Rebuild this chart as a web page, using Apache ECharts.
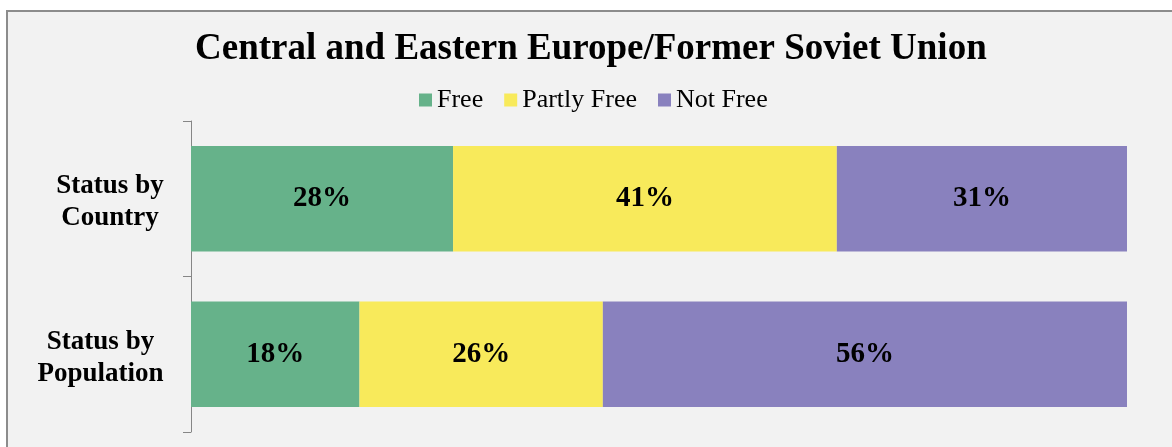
<!DOCTYPE html>
<html>
<head>
<meta charset="utf-8">
<script src="https://cdn.jsdelivr.net/npm/echarts@6/dist/echarts.min.js"></script>
<style>
  html, body { margin: 0; padding: 0; background: #ffffff; }
  #chart { width: 1172px; height: 447px; }
</style>
</head>
<body>
<div id="chart"></div>
<script>
// categories top to bottom
var categories = ['Status by\nCountry', 'Status by\nPopulation'];
var seriesNames = ['Free', 'Partly Free', 'Not Free'];
// percentage shares
var free = [28, 18];
var partlyFree = [41, 26];
var notFree = [31, 56];

var colors = ['#66b28a', '#f8ea5b', '#8981be'];
var serif = '"Liberation Serif", "Times New Roman", serif';
var catFont = 27;

// category labels: lines centred inside a right-aligned block
var ctx = document.createElement('canvas').getContext('2d');
ctx.font = 'bold ' + catFont + 'px ' + serif;
var rich = {};
categories.forEach(function (c, i) {
  var w = 0;
  c.split('\n').forEach(function (line) {
    w = Math.max(w, ctx.measureText(line).width);
  });
  rich['l' + i] = {
    width: Math.ceil(w),
    align: 'center',
    fontFamily: serif,
    fontWeight: 'bold',
    fontSize: catFont,
    lineHeight: 32,
    color: '#000'
  };
});

function barSeries(name, data, color) {
  return {
    name: name,
    type: 'bar',
    stack: 'total',
    barWidth: '68%',
    data: data,
    itemStyle: { color: color },
    label: {
      show: true,
      position: 'inside',
      formatter: '{c}%',
      color: '#000',
      fontFamily: serif,
      fontWeight: 'bold',
      fontSize: 29
    },
    emphasis: { disabled: true }
  };
}

var option = {
  animation: false,
  backgroundColor: '#ffffff',
  graphic: [{
    type: 'rect',
    z: -10,
    shape: { x: 7, y: 11, width: 1200, height: 480 },
    style: { fill: '#f2f2f2', stroke: '#8c8c8c', lineWidth: 2 },
    silent: true
  }],
  title: {
    text: 'Central and Eastern Europe/Former Soviet Union',
    left: 195,
    top: 31,
    padding: 0,
    textStyle: {
      fontFamily: serif,
      fontWeight: 'bold',
      fontSize: 37,
      color: '#000'
    }
  },
  legend: {
    data: seriesNames,
    top: 82,
    left: 414,
    itemWidth: 13,
    itemHeight: 13,
    itemGap: 21,
    icon: 'rect',
    textStyle: {
      fontFamily: serif,
      fontSize: 26,
      color: '#000'
    }
  },
  grid: {
    left: 191,
    right: 45,
    top: 121,
    bottom: 15
  },
  xAxis: {
    type: 'value',
    min: 0,
    max: 100,
    show: false
  },
  yAxis: {
    type: 'category',
    inverse: true,
    data: categories,
    axisLine: { show: true, lineStyle: { color: '#868686', width: 1 } },
    axisTick: { show: true, length: 8, lineStyle: { color: '#868686' } },
    axisLabel: {
      margin: 27,
      align: 'right',
      padding: [7, 0, 0, 0],
      formatter: function (value, index) {
        return value.split('\n').map(function (line) {
          return '{l' + index + '|' + line + '}';
        }).join('\n');
      },
      rich: rich
    }
  },
  series: [
    barSeries(seriesNames[0], free, colors[0]),
    barSeries(seriesNames[1], partlyFree, colors[1]),
    barSeries(seriesNames[2], notFree, colors[2])
  ]
};

echarts.init(document.getElementById('chart')).setOption(option);
</script>
</body>
</html>
